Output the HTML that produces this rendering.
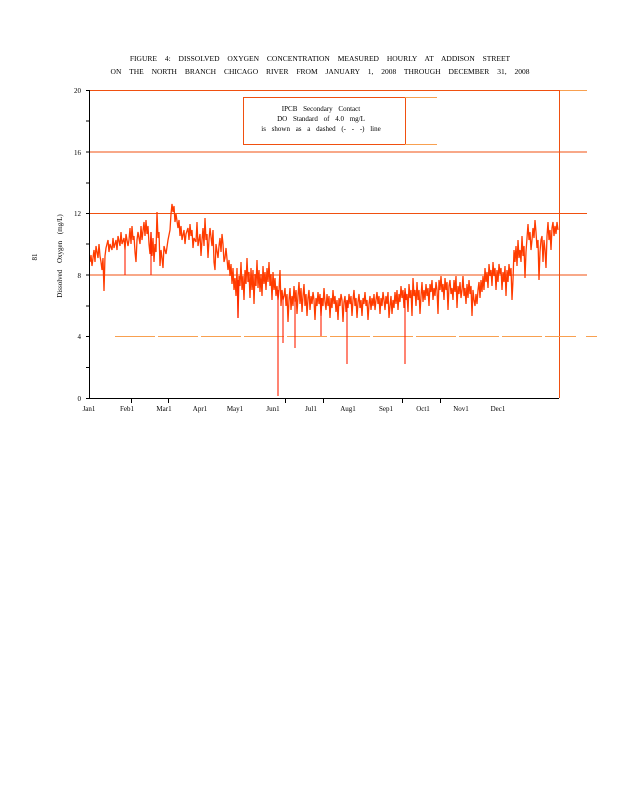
<!DOCTYPE html>
<html><head><meta charset="utf-8"><style>
html,body{margin:0;padding:0;background:#fff;}
svg{display:block;font-family:"Liberation Serif",serif;}
</style></head><body>
<svg width="618" height="800" viewBox="0 0 618 800" xmlns="http://www.w3.org/2000/svg">
<rect width="618" height="800" fill="#fff"/>
<text x="320" y="61" font-size="7.5" text-anchor="middle" word-spacing="6">FIGURE 4: DISSOLVED  OXYGEN  CONCENTRATION  MEASURED  HOURLY  AT ADDISON  STREET</text>
<text x="320" y="74" font-size="7.5" text-anchor="middle" word-spacing="6">ON THE NORTH  BRANCH  CHICAGO  RIVER  FROM  JANUARY  1, 2008  THROUGH DECEMBER  31, 2008</text>
<g stroke="#f05010" stroke-width="1">
<line x1="89" y1="90.5" x2="587" y2="90.5" stroke="#f8a050"/>
<line x1="89" y1="90.5" x2="559" y2="90.5"/>
<line x1="89" y1="152" x2="587" y2="152"/>
<line x1="89" y1="213.5" x2="587" y2="213.5"/>
<line x1="89" y1="275" x2="587" y2="275"/>
<line x1="559.5" y1="90" x2="559.5" y2="398"/>
</g>
<line x1="115" y1="336.5" x2="576" y2="336.5" stroke="#f8a050" stroke-width="1" stroke-dasharray="40,3"/>
<line x1="586" y1="336.5" x2="597" y2="336.5" stroke="#f8a050" stroke-width="1"/>
<rect x="243.5" y="97.5" width="162" height="47" fill="#fff" stroke="#f05010"/>
<line x1="405" y1="97.5" x2="437" y2="97.5" stroke="#f8a050"/>
<line x1="405" y1="144.5" x2="437" y2="144.5" stroke="#f8a050"/>
<g font-size="7" text-anchor="middle" word-spacing="4">
<text x="321" y="111">IPCB  Secondary   Contact</text>
<text x="321" y="121">DO  Standard   of 4.0  mg/L</text>
<text x="321" y="131">is shown  as a dashed  (- - -) line</text>
</g>
<g fill="none" stroke-linejoin="bevel">
<path stroke="#ff3c00" stroke-width="1.3" d="M90,262 91,255 92,266 94,250 95,262 96,246 98,258 99,244 100,256 101,262 102,270 103,258 104,291 105,256 106,248 108,240 109,252 110,244 112,250 113,238 114,248 116,240 117,250 118,236 120,246 121,232 122,244 124,238 125,250 126,234 128,246 129,240 130,228 131,244 132,226 133,240 134,236 135,252 136,262 137,240 138,232 140,244 141,226 142,240 144,222 145,236 146,220 147,234 148,226 149,244 150,254 151,232 152,256 153,238 154,262 155,244 156,252 157,212 158,238 159,232 160,266 161,250 162,258 163,268 164,246 166,254 168,240 170,230 171,214 172,204 173,212 174,206 175,222 176,214 178,228 179,220 180,236 181,226 182,240 184,230 185,244 186,234 188,228 189,240 190,224 191,236 192,230 193,248 194,238 196,242 197,222 198,246 199,240 200,234 201,256 202,240 203,228 204,246 205,218 206,240 207,234 208,258 209,240 210,228 212,246 213,230 214,262 215,270 216,244 218,258 219,246 220,238 221,252 222,234 223,244 224,262 225,258 226,248 228,270 229,260 230,276 231,264 232,284 233,268 234,290 235,278 236,296 237,268 238,318 239,276 240,286 241,262 242,290 243,276 244,300 245,270 246,284 247,258 248,282 249,272 250,298 251,268 252,290 253,270 254,304 255,274 256,286 257,260 258,288 259,270 260,292 261,274 262,296 263,266 264,284 265,272 266,290 267,268 268,282 269,262 270,286 271,274 272,300 273,272 274,290 275,278 276,296 277,286 278,300 279,290 280,270 281,306 282,290 283,300 284,296 285,288 286,306 287,294 288,322 289,300 290,288 291,310 292,296 293,306 294,286 295,302 296,290 297,314 298,296 299,282 300,304 301,288 302,312 303,296 304,284 305,306 306,294 307,316 308,298 309,290 310,310 311,296 312,304 313,292 314,300 315,320 316,298 317,306 318,292 319,304 320,294 321,316 322,298 323,306 324,288 325,302 326,310 327,294 328,306 329,296 330,318 331,298 332,308 333,290 334,304 335,296 336,312 337,300 338,320 339,298 340,306 341,294 342,300 343,322 344,302 345,296 346,312 347,300 348,308 349,294 350,304 351,296 352,316 353,300 354,290 355,306 356,298 357,318 358,302 359,294 360,308 361,300 362,316 363,298 364,304 365,292 366,306 367,300 368,320 369,304 370,296 371,310 372,298 373,306 374,294 375,310 376,300 377,292 378,304 379,296 380,314 381,298 382,306 383,292 384,300 385,310 386,296 387,304 388,292 389,318 390,306 391,296 392,314 393,300 394,308 395,292 396,304 397,290 398,310 399,294 400,302 401,286 402,298 403,290 404,308 405,288 406,300 407,294 408,312 409,284 410,298 411,290 412,316 413,278 414,296 415,290 416,306 417,282 418,300 419,290 420,314 421,296 422,282 423,302 424,290 425,300 426,284 427,296 428,288 429,306 430,284 431,292 432,280 433,300 434,288 435,296 436,282 437,290 438,314 439,280 440,290 441,276 442,292 443,284 444,300 445,278 446,290 447,282 448,310 449,286 450,280 451,294 452,288 453,300 454,280 455,292 456,276 457,308 458,286 459,294 460,282 461,298 462,290 463,276 464,296 465,288 466,304 467,284 468,298 469,280 470,294 471,286 472,316 473,290 474,300 475,306 476,294 477,304 478,290 479,282 480,298 481,280 482,292 483,276 484,290 485,268 486,282 487,272 488,288 489,264 490,276 491,270 492,286 493,262 494,276 495,268 496,290 497,270 498,282 499,264 500,274 501,268 502,290 503,272 504,282 505,266 506,296 507,270 508,282 509,264 510,276 511,268 512,300 513,280 514,250 515,262 516,246 517,266 518,240 519,258 520,250 521,262 522,236 523,256 524,246 525,278 526,252 527,238 528,224 529,240 530,232 531,250 532,240 533,228 534,238 535,220 536,232 537,248 538,240 539,280 540,252 541,240 542,236 543,262 544,240 545,250 546,268 547,236 548,222 549,240 550,230 551,250 552,228 553,222 554,236 555,226 556,234 557,222 558,230"/>
<path stroke="#ff2000" stroke-width="1.1" d="M278,290V396M283,296V343M295,300V348M321,298V336M347,300V364M405,292V364M238,280V318M125,250V275M151,232V275"/>
</g>
<g stroke="#000" stroke-width="1">
<line x1="89.5" y1="90" x2="89.5" y2="399"/>
<line x1="89" y1="398.5" x2="559" y2="398.5"/>
<path d="M86,398.5H89M86,367.5H89M86,336.5H89M86,306H89M86,275H89M86,244H89M86,213.5H89M86,183H89M86,152H89M86,121H89M86,90.5H89M131.5,398V403M168.5,398V403M285.5,398V403M323.5,398V403M402.5,398V403M440.5,398V403"/>
</g>
<g font-size="7" text-anchor="end">
<text x="81" y="93">20</text><text x="81" y="155">16</text><text x="81" y="216">12</text>
<text x="81" y="278">8</text><text x="81" y="339">4</text><text x="81" y="401">0</text>
</g>
<g font-size="7" text-anchor="middle">
<text x="89" y="411">Jan1</text><text x="127" y="411">Feb1</text><text x="164" y="411">Mar1</text>
<text x="200" y="411">Apr1</text><text x="235" y="411">May1</text><text x="273" y="411">Jun1</text>
<text x="311" y="411">Jul1</text><text x="348" y="411">Aug1</text><text x="386" y="411">Sep1</text>
<text x="423" y="411">Oct1</text><text x="461" y="411">Nov1</text><text x="498" y="411">Dec1</text>
</g>
<text transform="translate(62,256) rotate(-90)" font-size="7" text-anchor="middle" word-spacing="5">Dissolved  Oxygen  (mg/L)</text>
<text transform="translate(37,257) rotate(-90)" font-size="7" text-anchor="middle">81</text>
</svg>
</body></html>
